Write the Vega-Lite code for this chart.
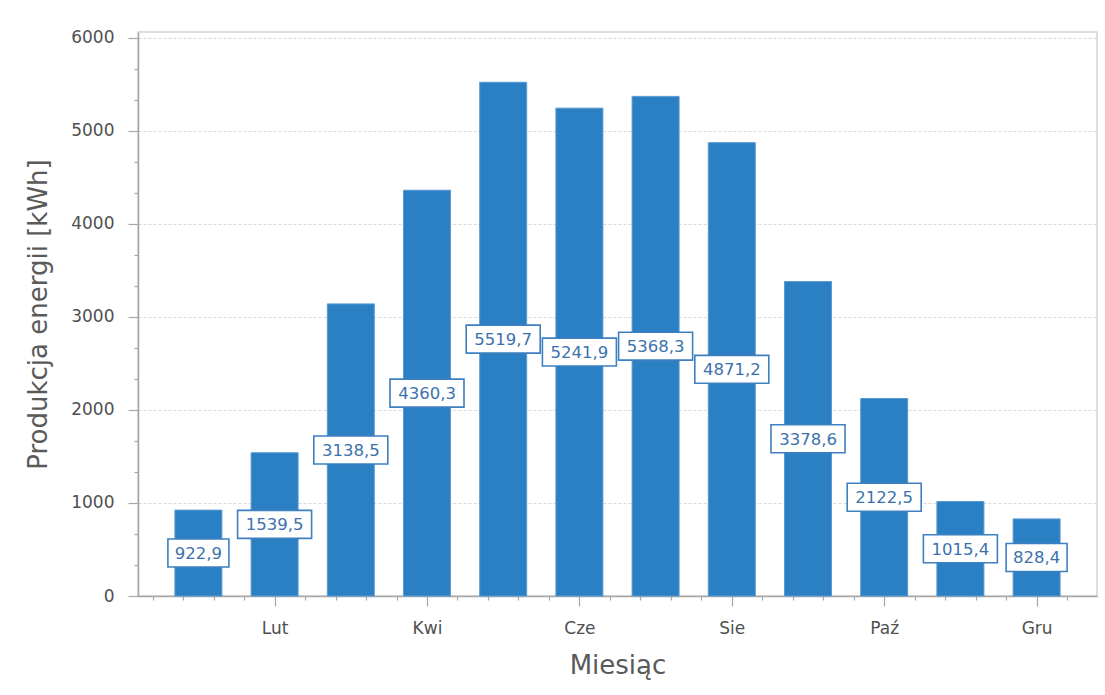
{
  "$schema": "https://vega.github.io/schema/vega-lite/v6.json",
  "width": 959,
  "height": 564,
  "autosize": "none",
  "padding": {"left": 138, "top": 32, "right": 8, "bottom": 99},
  "background": "white",
  "config": {
    "locale": {"number": {"decimal": ",", "thousands": " ", "grouping": [3], "currency": ["", " zł"]}},
    "view": {"stroke": "#d4d4d4", "strokeWidth": 1.5},
    "font": "DejaVu Sans",
    "axis": {
      "labelFont": "DejaVu Sans",
      "titleFont": "DejaVu Sans",
      "labelColor": "#505050",
      "titleColor": "#5a5a5a",
      "titleFontWeight": "normal",
      "domainColor": "#a6a6a6",
      "domainWidth": 1.5,
      "tickColor": "#a6a6a6",
      "tickWidth": 1.2
    }
  },
  "data": {
    "values": [
      {"miesiac": "Sty", "nr": 1, "kwh": 922.9},
      {"miesiac": "Lut", "nr": 2, "kwh": 1539.5},
      {"miesiac": "Mar", "nr": 3, "kwh": 3138.5},
      {"miesiac": "Kwi", "nr": 4, "kwh": 4360.3},
      {"miesiac": "Maj", "nr": 5, "kwh": 5519.7},
      {"miesiac": "Cze", "nr": 6, "kwh": 5241.9},
      {"miesiac": "Lip", "nr": 7, "kwh": 5368.3},
      {"miesiac": "Sie", "nr": 8, "kwh": 4871.2},
      {"miesiac": "Wrz", "nr": 9, "kwh": 3378.6},
      {"miesiac": "Paź", "nr": 10, "kwh": 2122.5},
      {"miesiac": "Lis", "nr": 11, "kwh": 1015.4},
      {"miesiac": "Gru", "nr": 12, "kwh": 828.4}
    ]
  },
  "resolve": {"scale": {"y": "independent"}},
  "layer": [
    {
      "mark": {"type": "bar", "orient": "vertical", "size": 47, "fill": "#2a80c3", "stroke": "#5a9ad2", "strokeWidth": 1},
      "encoding": {
        "x": {
          "field": "nr", "type": "quantitative",
          "scale": {"domain": [0.273, 12.727], "nice": false, "zero": false},
          "axis": {
            "title": "Miesiąc",
            "titleFontSize": 26,
            "titlePadding": 16,
            "grid": false,
            "tickCount": 200,
            "values": [0.4, 0.8, 1.2, 1.6, 2, 2.4, 2.8, 3.2, 3.6, 4, 4.4, 4.8, 5.2, 5.6, 6, 6.4, 6.8, 7.2, 7.6, 8, 8.4, 8.8, 9.2, 9.6, 10, 10.4, 10.8, 11.2, 11.6, 12, 12.4],
            "labelExpr": "abs(datum.value - round(datum.value)) < 0.01 && round(datum.value) % 2 == 0 ? ['Sty','Lut','Mar','Kwi','Maj','Cze','Lip','Sie','Wrz','Paź','Lis','Gru'][round(datum.value) - 1] : ''",
            "labelFontSize": 17,
            "labelPadding": 14,
            "labelOverlap": false,
            "tickSize": {"condition": {"test": "abs(datum.value - round(datum.value)) < 0.01 && round(datum.value) % 2 == 0", "value": 10}, "value": 4}
          }
        },
        "y": {
          "field": "kwh", "type": "quantitative",
          "scale": {"domain": [0, 6060], "nice": false},
          "axis": {
            "title": "Produkcja energii [kWh]",
            "titleFontSize": 26,
            "titlePadding": 19,
            "tickCount": 200,
            "values": [0, 333.333, 666.667, 1000, 1333.333, 1666.667, 2000, 2333.333, 2666.667, 3000, 3333.333, 3666.667, 4000, 4333.333, 4666.667, 5000, 5333.333, 5666.667, 6000],
            "labelExpr": "abs(datum.value / 1000 - round(datum.value / 1000)) < 0.001 ? format(datum.value, 'd') : ''",
            "labelFontSize": 17,
            "labelPadding": 14,
            "labelOverlap": false,
            "grid": true,
            "gridColor": "#d9d9d9",
            "gridDash": [3, 2],
            "gridWidth": 1.2,
            "gridOpacity": {"condition": {"test": "abs(datum.value / 1000 - round(datum.value / 1000)) < 0.001 && datum.value > 0", "value": 1}, "value": 0},
            "tickSize": {"condition": {"test": "abs(datum.value / 1000 - round(datum.value / 1000)) < 0.001", "value": 10}, "value": 4}
          }
        }
      }
    },
    {
      "mark": {"type": "point", "fill": "white", "stroke": "#3d7fc0", "strokeWidth": 1.6, "opacity": 1, "fillOpacity": 1, "filled": false},
      "encoding": {
        "x": {"field": "nr", "type": "quantitative"},
        "y": {"field": "kwh", "type": "quantitative", "scale": {"domain": [0, 12120], "nice": false}, "axis": null},
        "shape": {"condition": {"test": "datum.kwh < 1000", "value": "M-1,-0.459H1V0.459H-1Z"}, "value": "M-1,-0.378H1V0.378H-1Z"},
        "size": {"condition": {"test": "datum.kwh < 1000", "value": 3721}, "value": 5476}
      }
    },
    {
      "mark": {"type": "text", "font": "DejaVu Sans", "fontSize": 16.5, "color": "#3b72ad", "baseline": "middle", "align": "center", "dy": 1},
      "encoding": {
        "x": {"field": "nr", "type": "quantitative"},
        "y": {"field": "kwh", "type": "quantitative", "scale": {"domain": [0, 12120], "nice": false}, "axis": null},
        "text": {"field": "kwh", "type": "quantitative", "format": ".1f"}
      }
    }
  ]
}
